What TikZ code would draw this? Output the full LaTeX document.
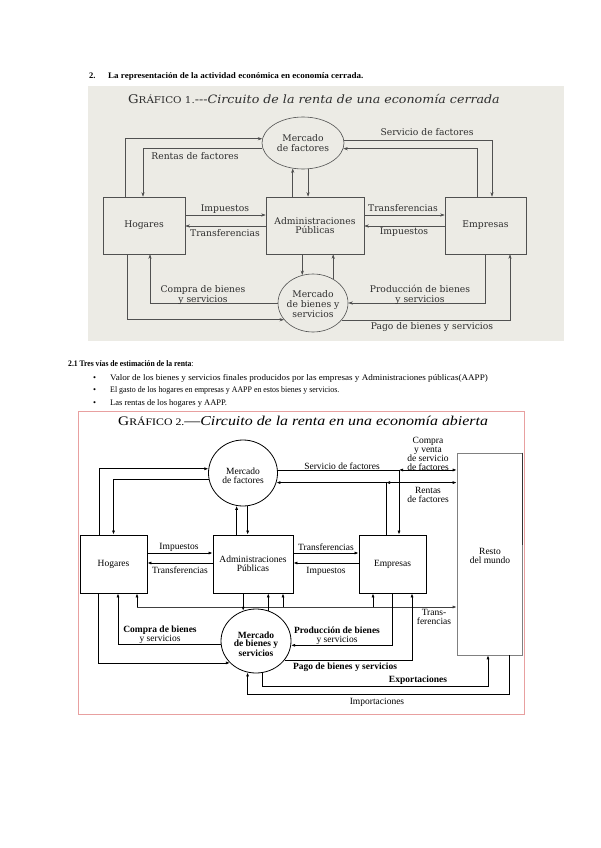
\documentclass[tikz,border=0pt]{standalone}
\usepackage{fontspec}
\setmainfont{Liberation Serif}
\newfontfamily\dvs{DejaVu Serif}
\usetikzlibrary{shapes.geometric,arrows.meta}
\definecolor{bgone}{RGB}{236,235,229}
\definecolor{lnone}{RGB}{80,80,80}
\definecolor{txone}{RGB}{45,45,45}
\definecolor{framered}{RGB}{232,160,160}
\tikzset{
  lblone/.style={font=\dvs\fontsize{9.2}{9.6}\selectfont, text=txone, inner sep=0pt, align=center},
  boxone/.style={draw=lnone, line width=0.6pt, fill=bgone, inner sep=0pt, align=center, font=\dvs\fontsize{9.2}{9.6}\selectfont, text=txone},
  ellone/.style={ellipse, draw=lnone, line width=0.6pt, fill=bgone, inner sep=0pt},
  conone/.style={draw=lnone, line width=0.6pt, -{Stealth[length=4.5pt,width=3.2pt]}},
  lbltwo/.style={font=\fontsize{9.5}{8.6}\selectfont, inner sep=0pt, align=center},
  lbltwob/.style={font=\bfseries\fontsize{9.5}{8.6}\selectfont, inner sep=0pt, align=center},
  boxtwo/.style={draw=black, line width=0.8pt, inner sep=0pt, align=center, font=\fontsize{9.5}{8.6}\selectfont},
  elltwo/.style={ellipse, draw=black, line width=0.8pt, inner sep=0pt},
  contwo/.style={draw=black, line width=0.7pt, -{Latex[length=4pt,width=3pt]}},
  contwod/.style={draw=black, line width=0.7pt, {Latex[length=4pt,width=3pt]}-{Latex[length=4pt,width=3pt]}},
  hdr/.style={font=\bfseries\fontsize{8.5}{10}\selectfont, inner sep=0pt},
  bodytxt/.style={font=\fontsize{8.5}{10}\selectfont, inner sep=0pt}
}
\begin{document}
\begin{tikzpicture}[x=1pt,y=-1pt]
\useasboundingbox (0,0) rectangle (600,848);
\fill[white] (0,0) rectangle (600,848);

% ---------- header ----------
\node[hdr, anchor=base west] (hnum) at (89,79) {2.};
\node[hdr, anchor=base west] (htext) at (108,79) {\scalebox{1.06}[1]{La representación de la actividad económica en economía cerrada.}};

% ---------- Diagram 1 ----------
\fill[bgone] (88,86) rectangle (564,341);
\node[anchor=west, inner sep=0pt, text=txone, font=\dvs] (tone) at (128,99)
  {\scalebox{1.1}[1]{{\fontsize{12}{12}\selectfont G}{\fontsize{9.4}{12}\selectfont RÁFICO 1.}{\fontsize{11.5}{12}\selectfont ---\itshape Circuito de la renta de una economía cerrada}}};

\node[boxone, minimum width=82pt, minimum height=57pt] (hogone) at (144,225.5) {Hogares};
\node[boxone, minimum width=98pt, minimum height=57pt] (admone) at (315,225.5) {Administraciones\\Públicas};
\node[boxone, minimum width=81pt, minimum height=57pt] (empone) at (485.5,225.5) {Empresas};
\node[ellone, minimum width=82pt, minimum height=52pt] (mfone) at (303,143) {};
\node[lblone] (mfonet) at (303,143) {Mercado\\de factores};
\node[ellone, minimum width=70pt, minimum height=58pt] (mbone) at (313,303) {};
\node[lblone] (mbonet) at (313,304) {Mercado\\de bienes y\\servicios};

\draw[conone] ([xshift=-19pt]hogone.north) |- (mfone.174.4);
\draw[conone] (mfone.187.1) -| ([xshift=-1pt]hogone.north);
\node[lblone] (lrf) at (195,156) {Rentas de factores};
\draw[conone] (mfone.4.2) -| ([xshift=6.5pt]empone.north);
\draw[conone] ([xshift=-8.5pt]empone.north) |- (mfone.352.9);
\node[lblone] (lsf) at (427,132) {Servicio de factores};
\draw[conone] (admone.north -| mfone.248.4) -- (mfone.248.4);
\draw[conone] (mfone.281) -- (admone.north -| mfone.281);

\draw[conone] ([yshift=10.5pt]hogone.east) -- ([yshift=10.5pt]admone.west);
\draw[conone] ([yshift=-0.5pt]admone.west) -- ([yshift=-0.5pt]hogone.east);
\draw[conone] ([yshift=10.5pt]admone.east) -- ([yshift=10.5pt]empone.west);
\draw[conone] ([yshift=-0.5pt]empone.west) -- ([yshift=-0.5pt]admone.east);
\node[lblone] (limpa) at (225,209) {Impuestos};
\node[lblone] (ltra) at (225,233) {Transferencias};
\node[lblone] (ltrb) at (403,208) {Transferencias};
\node[lblone] (limpb) at (404,232) {Impuestos};

\draw[conone] (admone.south -| mbone.111.8) -- (mbone.111.8);
\draw[conone] (mbone.50) -- (admone.south -| mbone.50);
\draw[conone] (mbone.west) -| ([xshift=6pt]hogone.south);
\draw[conone] ([xshift=-17pt]hogone.south) |- (mbone.210.9);
\draw[conone] (empone.south) |- (mbone.east);
\draw[conone] (mbone.329.1) -| ([xshift=24.5pt]empone.south);
\node[lblone] (lcb) at (203,295) {Compra de bienes\\y servicios};
\node[lblone] (lpb) at (420,295) {Producción de bienes\\y servicios};
\node[lblone] (lpg) at (432,327) {Pago de bienes y servicios};

% ---------- text ----------
\node[hdr, anchor=base west] (sec) at (68,366) {\scalebox{0.9}[1]{2.1 Tres vías de estimación de la renta\textmd{:}}};
\node[bodytxt, anchor=base west] (bua) at (93,380) {•};
\node[bodytxt, anchor=base west] (bub) at (93,392) {•};
\node[bodytxt, anchor=base west] (buc) at (93,405) {•};
\node[bodytxt, anchor=base west] (tla) at (110,380) {\scalebox{1.07}[1]{Valor de los bienes y servicios finales producidos por las empresas y Administraciones públicas(AAPP)}};
\node[bodytxt, anchor=base west] (tlb) at (110,392) {\scalebox{0.93}[1]{El gasto de los hogares en empresas y AAPP en estos bienes y servicios.}};
\node[bodytxt, anchor=base west] (tlc) at (110,405) {Las rentas de los hogares y AAPP.};

% ---------- Diagram 2 ----------
\draw[framered, line width=1pt] (78,411) rectangle (524,714);
\node[anchor=west, inner sep=0pt] (ttwo) at (118,421)
  {\scalebox{1.18}[1]{{\fontsize{13}{13}\selectfont G}{\fontsize{10}{13}\selectfont RÁFICO 2.}{\fontsize{13.5}{13}\selectfont ---\itshape Circuito de la renta en una economía abierta}}};

\node[boxtwo, minimum width=67pt, minimum height=58pt] (hogtwo) at (113.5,564) {Hogares};
\node[boxtwo, minimum width=80pt, minimum height=58pt] (admtwo) at (253,564) {Administraciones\\Públicas};
\node[boxtwo, minimum width=67pt, minimum height=58pt] (emptwo) at (392.5,564) {Empresas};
\node[draw=gray, line width=0.6pt, minimum width=65pt, minimum height=202pt, inner sep=0pt] (restwo) at (489.5,554) {};
\draw[black!80, line width=1.3pt] (restwo.north east) -- ([yshift=-92pt]restwo.north east);
\node[lbltwo] (restwot) at (490,556) {Resto\\del mundo};
\node[elltwo, minimum width=69pt, minimum height=66pt] (mftwo) at (243,473) {};
\node[lbltwo] (mftwot) at (243,476) {Mercado\\de factores};
\node[elltwo, minimum width=70pt, minimum height=64pt] (mbtwo) at (256,641) {};
\node[lbltwob] (mbtwot) at (256,644) {Mercado\\de bienes y\\servicios};

\draw[contwo] ([xshift=-14.5pt]hogtwo.north) |- (mftwo.173.3);
\draw[contwo] (mftwo.191.8) -| (hogtwo.north);
\draw[contwo] (mftwo.5) -| ([xshift=6.5pt]emptwo.north);
\coordinate (jone) at ([xshift=6.5pt]emptwo.north |- mftwo.5);
\draw[contwod] (jone) -- (jone -| restwo.west);
\draw[contwo] ([xshift=-6.5pt]emptwo.north) |- (mftwo.344.8);
\coordinate (jtwo) at ([xshift=-6.5pt]emptwo.north |- mftwo.344.8);
\draw[contwod] (jtwo) -- (jtwo -| restwo.west);
\node[lbltwo] (lsftwo) at (342,466) {Servicio de factores};
\node[lbltwo] (lcv) at (428,454) {Compra\\y venta\\de servicio\\de factores};
\node[lbltwo] (lrftwo) at (428,495) {Rentas\\de factores};
\draw[contwo] (admtwo.north -| mftwo.259.5) -- (mftwo.259.5);
\draw[contwo] (mftwo.278.7) -- (admtwo.north -| mftwo.278.7);

\draw[contwo] ([yshift=11pt]hogtwo.east) -- ([yshift=11pt]admtwo.west);
\draw[contwo] ([yshift=1pt]admtwo.west) -- ([yshift=1pt]hogtwo.east);
\draw[contwo] ([yshift=11pt]admtwo.east) -- ([yshift=11pt]emptwo.west);
\draw[contwo] ([yshift=1pt]emptwo.west) -- ([yshift=1pt]admtwo.east);
\node[lbltwo] (limptwoa) at (179,547) {Impuestos};
\node[lbltwo] (ltrtwoa) at (180,570) {Transferencias};
\node[lbltwo] (ltrtwob) at (326,547) {Transferencias};
\node[lbltwo] (limptwob) at (326,571) {Impuestos};

\coordinate (tr) at (137,607);
\draw[contwo, draw=black!75] (tr) -- (tr -| restwo.west);
\draw[contwo] ([xshift=23.5pt]hogtwo.south |- tr) -- ([xshift=23.5pt]hogtwo.south);
\draw[contwo] ([xshift=30pt]admtwo.south |- tr) -- ([xshift=30pt]admtwo.south);
\draw[contwo] ([xshift=-19.5pt]emptwo.south |- tr) -- ([xshift=-19.5pt]emptwo.south);
\node[lbltwo] (ltrans) at (434,617) {Trans-\\ferencias};

\draw[contwo] (admtwo.south -| mbtwo.113.6) -- (mbtwo.113.6);
\draw[contwo] (mbtwo.68.3) -- (admtwo.south -| mbtwo.68.3);
\draw[contwo] (mbtwo.186.6) -| ([xshift=4.5pt]hogtwo.south);
\draw[contwo] ([xshift=-15.5pt]hogtwo.south) |- (mbtwo.220.9);
\draw[contwo] (emptwo.south) |- (mbtwo.353.4);
\draw[contwo] (mbtwo.326) -| ([xshift=19.5pt]emptwo.south);
\node[lbltwo] (lcbtwo) at (160,635) {\bfseries Compra de bienes\\y servicios};
\node[lbltwo] (lpbtwo) at (337,636) {\bfseries Producción de bienes\\y servicios};
\node[lbltwob] (lpgtwo) at (345,667) {Pago de bienes y servicios};

\coordinate (ex) at (0,686);
\coordinate (im) at (0,694);
\draw[contwo] (mbtwo.282.6) -- (mbtwo.282.6 |- ex) -| ([xshift=-1.5pt]restwo.south);
\draw[contwo] ([xshift=19.5pt]restwo.south) -- ([xshift=19.5pt]restwo.south |- im) -| (mbtwo.255.6);
\node[lbltwob] (lexp) at (418,680) {Exportaciones};
\node[lbltwo] (limp) at (377,702) {Importaciones};
\end{tikzpicture}
\end{document}
